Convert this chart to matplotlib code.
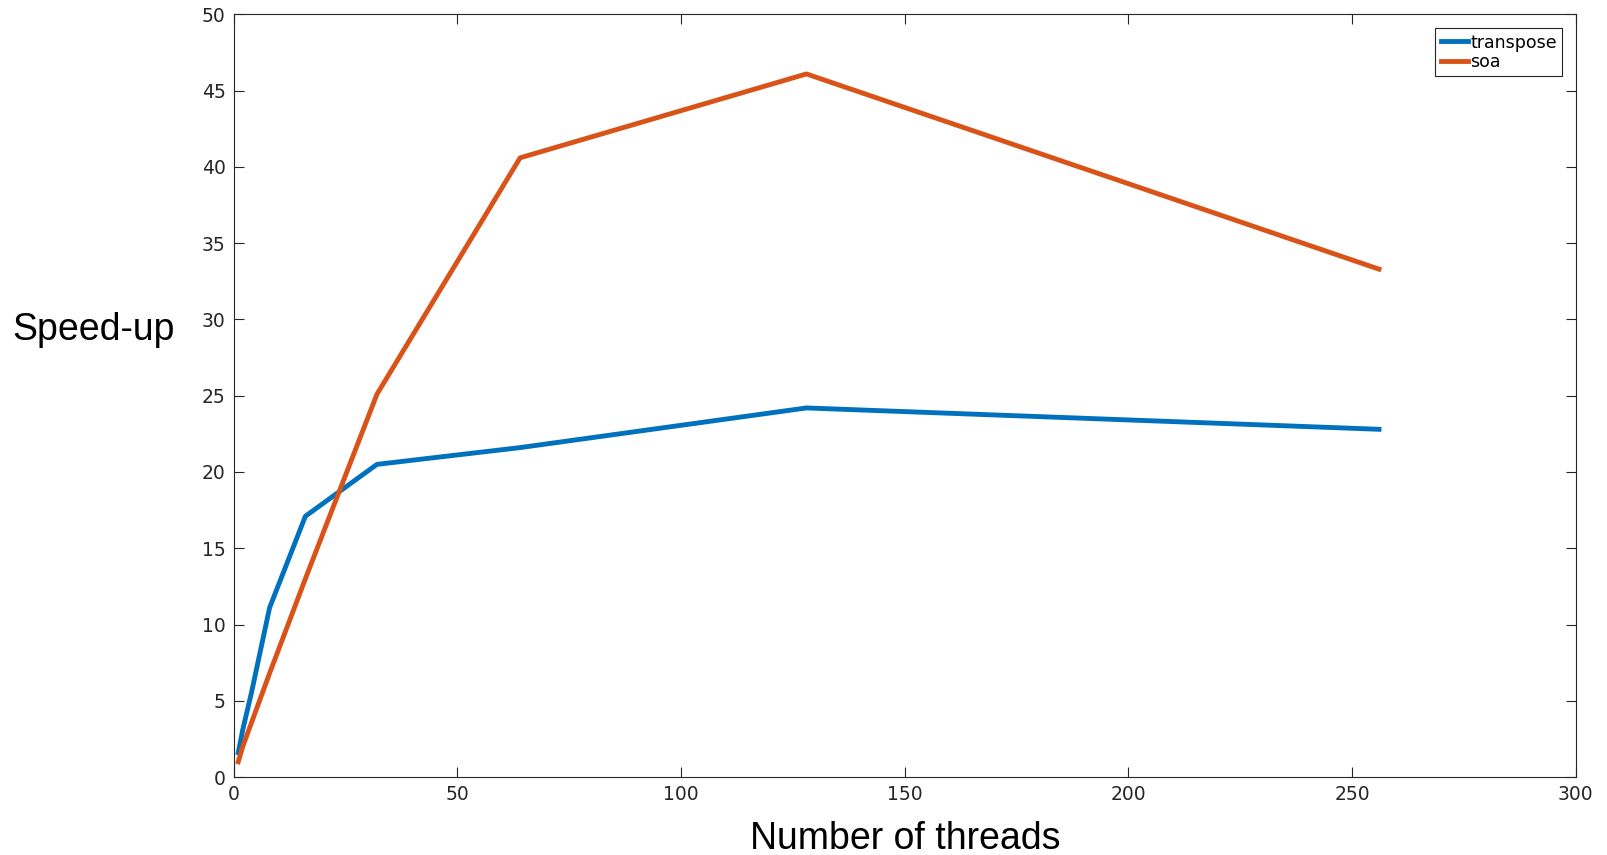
import matplotlib
matplotlib.use("Agg")
import matplotlib.pyplot as plt

threads = [1, 2, 4, 8, 16, 32, 64, 128, 256]
transpose = [1.6, 3.1, 5.6, 11.1, 17.1, 20.5, 21.6, 24.2, 22.8]
soa = [1.0, 2.0, 3.6, 6.8, 13.0, 25.1, 40.6, 46.1, 33.3]

fig = plt.figure(figsize=(16.08, 8.55), dpi=100)
ax = fig.add_axes([0.1454, 0.0912, 0.8346, 0.8919])

ax.plot(threads, transpose, color="#0072BD", lw=3.5, label="transpose")
ax.plot(threads, soa, color="#D95319", lw=3.5, label="soa")

ax.set_xlim(0, 300)
ax.set_ylim(0, 50)
ax.set_xticks(range(0, 301, 50))
ax.set_yticks(range(0, 51, 5))
ax.tick_params(direction="in", top=True, right=True, length=7, width=0.8,
               colors="#262626", labelsize=13.5, pad=6)
for s in ax.spines.values():
    s.set_color("#262626")
    s.set_linewidth(0.8)

ax.set_xlabel("Number of threads", fontsize=27, family="Liberation Sans")
ax.xaxis.set_label_coords(0.5, -0.058)
ax.set_ylabel("Speed-up", fontsize=27, family="Liberation Sans", rotation=0,
              ha="left", va="center")
ax.yaxis.set_label_coords(-0.165, 0.586)

leg = ax.legend(loc="upper right", fontsize=12.5, handlelength=1.6, handletextpad=0.1,
                borderpad=0.3, labelspacing=0.1, fancybox=False, framealpha=1,
                edgecolor="#262626", borderaxespad=0.8)
leg.get_frame().set_linewidth(0.8)

fig.savefig("out.png", dpi=100)
